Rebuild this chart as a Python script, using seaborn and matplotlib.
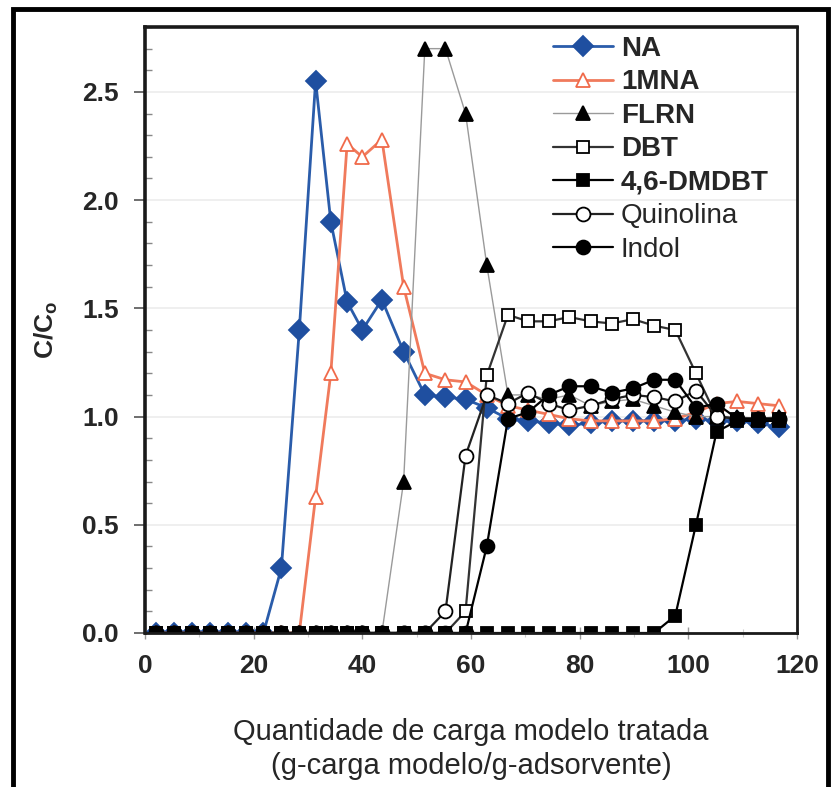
import matplotlib
matplotlib.use("Agg")
import matplotlib.pyplot as plt
from matplotlib.patches import Rectangle
from matplotlib.ticker import MultipleLocator
import seaborn as sns

# ---------------- data ----------------
x_load = [2.0, 5.3, 8.6, 11.9, 15.2, 18.5, 21.8, 25.1, 28.4, 31.4, 34.2, 37.2, 40.0,
          43.6, 47.6, 51.5, 55.3, 59.0, 62.9, 66.8, 70.5, 74.3, 78.1, 82.0, 85.9,
          89.8, 93.7, 97.6, 101.4, 105.2, 109.0, 112.8, 116.6]

na = [0, 0, 0, 0, 0, 0, 0, 0.30, 1.40, 2.55, 1.90, 1.53, 1.40, 1.54, 1.30, 1.10, 1.09,
      1.08, 1.04, 0.99, 0.98, 0.97, 0.96, 0.97, 0.98, 0.98, 0.98, 0.98, 0.99, 0.98,
      0.98, 0.97, 0.95]
mna = [0, 0, 0, 0, 0, 0, 0, 0, 0, 0.63, 1.20, 2.26, 2.20, 2.28, 1.60, 1.20, 1.17,
       1.16, 1.10, 1.05, 1.03, 1.01, 0.99, 0.98, 0.98, 0.98, 0.98, 0.99, 1.02, 1.06,
       1.07, 1.06, 1.05]
flrn = [0, 0, 0, 0, 0, 0, 0, 0, 0, 0, 0, 0, 0, 0, 0.70, 2.70, 2.70, 2.40, 1.70, 1.10,
        1.10, 1.08, 1.10, 1.05, 1.07, 1.08, 1.05, 1.02, 1.00, 1.00, 1.00, 0.99, 1.00]
dbt = [0, 0, 0, 0, 0, 0, 0, 0, 0, 0, 0, 0, 0, 0, 0, 0, 0, 0.10, 1.19, 1.47, 1.44,
       1.44, 1.46, 1.44, 1.43, 1.45, 1.42, 1.40, 1.20, 1.00, 0.99, 0.99, 0.99]
dmdbt = [0, 0, 0, 0, 0, 0, 0, 0, 0, 0, 0, 0, 0, 0, 0, 0, 0, 0, 0, 0, 0, 0, 0, 0, 0,
         0, 0, 0.08, 0.50, 0.93, 0.98, 0.98, 0.98]
quinolina = [0, 0, 0, 0, 0, 0, 0, 0, 0, 0, 0, 0, 0, 0, 0, 0, 0.10, 0.82, 1.10, 1.06,
             1.11, 1.06, 1.03, 1.05, 1.08, 1.10, 1.09, 1.07, 1.12, 1.00, 0.99, 0.99, 0.99]
indol = [0, 0, 0, 0, 0, 0, 0, 0, 0, 0, 0, 0, 0, 0, 0, 0, 0, 0, 0.40, 0.99, 1.02,
         1.10, 1.14, 1.14, 1.11, 1.13, 1.17, 1.17, 1.04, 1.06, 0.99, 0.99, 0.99]

labels = ["NA", "1MNA", "FLRN", "DBT", "4,6-DMDBT", "Quinolina", "Indol"]
x_ticks = [0, 20, 40, 60, 80, 100, 120]
y_ticks = [0.0, 0.5, 1.0, 1.5, 2.0, 2.5]

# ---------------- style ----------------
sns.set_theme(style="white")
plt.rcParams["font.family"] = ["Liberation Sans", "DejaVu Sans"]
plt.rcParams["mathtext.fontset"] = "custom"
plt.rcParams["mathtext.bf"] = "Liberation Sans:bold"
plt.rcParams["mathtext.rm"] = "Liberation Sans"

fig = plt.figure(figsize=(8.36, 7.87), dpi=100)
fig.patch.set_facecolor("white")
ax = fig.add_axes([145 / 836, (787 - 633) / 787, 652 / 836, 606 / 787])

styles = [
    dict(color="#2a5caa", marker="D", markersize=10.5, mfc="#1f4fa0", mec="#1f4fa0", lw=2.0),
    dict(color="#f07a5c", marker="^", markersize=10.5, mfc="white", mec="#f06a4a", lw=2.0),
    dict(color="#9a9a9a", marker="^", markersize=10.5, mfc="black", mec="black", lw=1.0),
    dict(color="#333333", marker="s", markersize=9, mfc="white", mec="black", lw=1.6),
    dict(color="black", marker="s", markersize=9, mfc="black", mec="black", lw=1.6),
    dict(color="#222222", marker="o", markersize=10, mfc="white", mec="black", lw=1.6),
    dict(color="black", marker="o", markersize=10, mfc="black", mec="black", lw=1.6),
]
series = [na, mna, flrn, dbt, dmdbt, quinolina, indol]

for vals, lab, st in zip(series, labels, styles):
    sns.lineplot(x=x_load, y=vals, ax=ax, estimator=None, sort=False, label=lab,
                 color=st["color"], linewidth=st["lw"], marker=st["marker"],
                 markersize=st["markersize"], markerfacecolor=st["mfc"],
                 markeredgecolor=st["mec"], markeredgewidth=1.3)

ax.set_xlim(0, 120)
ax.set_ylim(0, 2.8)
ax.set_xticks(x_ticks)
ax.set_xticklabels([str(t) for t in x_ticks])
ax.set_yticks(y_ticks)
ax.set_yticklabels([f"{t:.1f}" for t in y_ticks])
ax.yaxis.set_minor_locator(MultipleLocator(0.1))
ax.xaxis.set_minor_locator(MultipleLocator(10))

for lab in ax.get_xticklabels() + ax.get_yticklabels():
    lab.set_fontweight("bold")
    lab.set_fontsize(19)

ax.tick_params(axis="y", which="major", direction="out", length=8, width=1.2,
               color="#555555", pad=11, left=True)
ax.tick_params(axis="y", which="minor", direction="in", length=5, width=1.0,
               color="#888888", left=True)
ax.tick_params(axis="x", which="major", direction="inout", length=8, width=1.0,
               color="#999999", pad=11, bottom=True)
ax.tick_params(axis="x", which="minor", direction="inout", length=6, width=0.8,
               color="#cccccc", bottom=True)

ax.grid(axis="y", which="major", color="#ececec", linewidth=1.2)
ax.set_axisbelow(True)
for side in ["left", "top"]:
    ax.spines[side].set_linewidth(2.6)
    ax.spines[side].set_color("#1a1a1a")
for side in ["right", "bottom"]:
    ax.spines[side].set_linewidth(2.0)
    ax.spines[side].set_color("#1a1a1a")

ax.set_ylabel(r"$\mathbf{C/C_o}$", fontsize=19, labelpad=16)
ax.set_xlabel("Quantidade de carga modelo tratada\n(g-carga modelo/g-adsorvente)",
              fontsize=21, linespacing=1.25, labelpad=29)

leg = ax.legend(loc="upper left", bbox_to_anchor=(0.615, 0.997), frameon=False,
                fontsize=20, handlelength=2.15, handletextpad=0.3, labelspacing=0.27,
                borderpad=0.25, borderaxespad=0.0)
for t in leg.get_texts():
    if t.get_text() in ("Quinolina", "Indol"):
        t.set_fontweight("normal")
    else:
        t.set_fontweight("bold")

fig.add_artist(Rectangle((13 / 836, -0.05), (828 - 13) / 836, 1 - 9 / 787 + 0.05,
                         transform=fig.transFigure, fill=False, lw=3.5,
                         edgecolor="black"))

fig.savefig("out.png", dpi=100, facecolor="white")
